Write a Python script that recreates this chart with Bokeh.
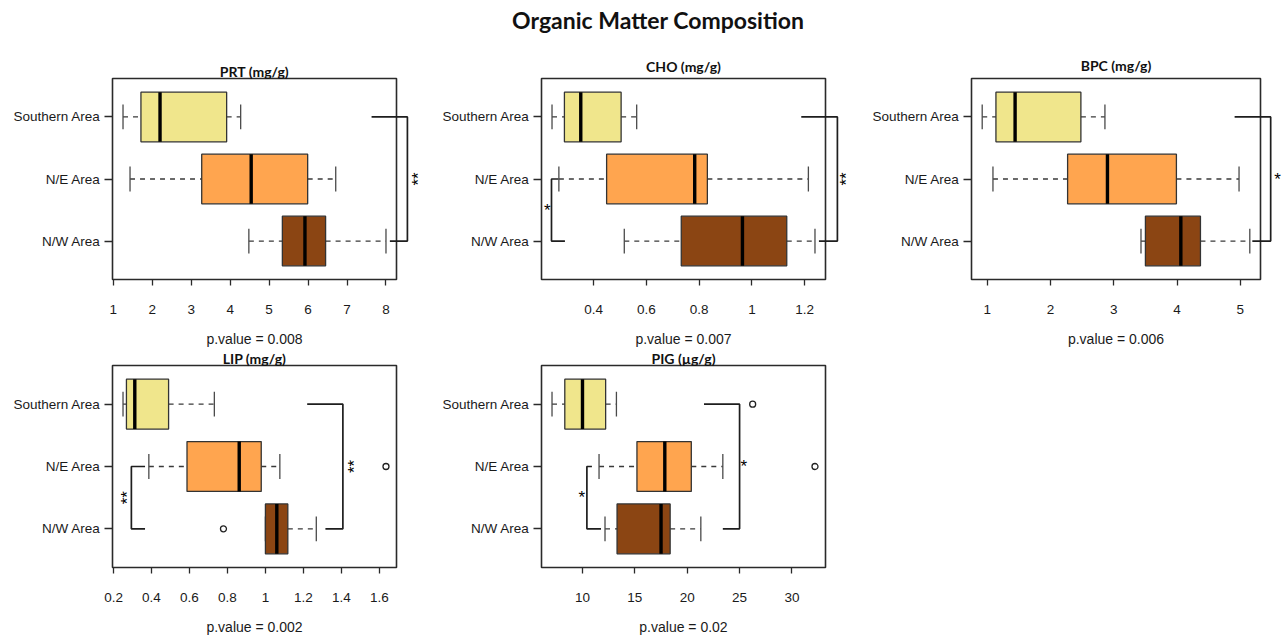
import math
from bokeh.plotting import figure
from bokeh.models import Range1d, FixedTicker, ColumnDataSource, Div
from bokeh.layouts import column, row
from bokeh.embed import file_html
from bokeh.resources import INLINE
from bokeh.core.properties import value

# ---------------- data ----------------
main_title = "Organic Matter Composition"
areas = ["Southern Area", "N/E Area", "N/W Area"]
area_colors = ["#F0E68C", "#FFA54F", "#8B4513"]

prt_title = "PRT (mg/g)"
prt_pvalue = "p.value = 0.008"
prt_low = [1.25, 1.43, 4.48]
prt_q1 = [1.71, 3.27, 5.34]
prt_med = [2.20, 4.54, 5.92]
prt_q3 = [3.91, 5.99, 6.45]
prt_high = [4.27, 6.71, 8.00]
prt_out_area = []
prt_out_val = []
prt_ticks = [1, 2, 3, 4, 5, 6, 7, 8]
prt_br_from = ["Southern Area"]
prt_br_to = ["N/W Area"]
prt_br_x_from = [7.63]
prt_br_x_vert = [8.55]
prt_br_x_to = [8.10]
prt_br_label = ["**"]
prt_br_label_x = [8.75]

cho_title = "CHO (mg/g)"
cho_pvalue = "p.value = 0.007"
cho_low = [0.242, 0.268, 0.516]
cho_q1 = [0.289, 0.449, 0.732]
cho_med = [0.351, 0.783, 0.964]
cho_q3 = [0.504, 0.831, 1.132]
cho_high = [0.563, 1.214, 1.239]
cho_out_area = []
cho_out_val = []
cho_ticks = [0.4, 0.6, 0.8, 1.0, 1.2]
cho_br_from = ["N/E Area", "Southern Area"]
cho_br_to = ["N/W Area", "N/W Area"]
cho_br_x_from = [0.266, 1.187]
cho_br_x_vert = [0.240, 1.324]
cho_br_x_to = [0.291, 1.254]
cho_br_label = ["*", "**"]
cho_br_label_x = [0.224, 1.349]

bpc_title = "BPC (mg/g)"
bpc_pvalue = "p.value = 0.006"
bpc_low = [0.92, 1.09, 3.43]
bpc_q1 = [1.137, 2.27, 3.50]
bpc_med = [1.44, 2.90, 4.06]
bpc_q3 = [2.48, 3.99, 4.37]
bpc_high = [2.86, 4.98, 5.15]
bpc_out_area = []
bpc_out_val = []
bpc_ticks = [1, 2, 3, 4, 5]
bpc_br_from = ["Southern Area"]
bpc_br_to = ["N/W Area"]
bpc_br_x_from = [4.91]
bpc_br_x_vert = [5.48]
bpc_br_x_to = [5.19]
bpc_br_label = ["*"]
bpc_br_label_x = [5.59]

lip_title = "LIP (mg/g)"
lip_pvalue = "p.value = 0.002"
lip_low = [0.250, 0.386, 1.000]
lip_q1 = [0.268, 0.587, 1.000]
lip_med = [0.312, 0.862, 1.060]
lip_q3 = [0.490, 0.978, 1.118]
lip_high = [0.731, 1.076, 1.268]
lip_out_area = ["N/E Area", "N/W Area"]
lip_out_val = [1.635, 0.779]
lip_ticks = [0.2, 0.4, 0.6, 0.8, 1.0, 1.2, 1.4, 1.6]
lip_br_from = ["N/E Area", "Southern Area"]
lip_br_to = ["N/W Area", "N/W Area"]
lip_br_x_from = [0.366, 1.220]
lip_br_x_vert = [0.294, 1.408]
lip_br_x_to = [0.366, 1.316]
lip_br_label = ["**", "**"]
lip_br_label_x = [0.256, 1.455]

pig_title = "PIG (\u00b5g/g)"
pig_pvalue = "p.value = 0.02"
pig_low = [7.09, 11.58, 12.15]
pig_q1 = [8.31, 15.20, 13.30]
pig_med = [10.00, 17.86, 17.50]
pig_q3 = [12.21, 20.39, 18.37]
pig_high = [13.24, 23.40, 21.30]
pig_out_area = ["Southern Area", "N/E Area"]
pig_out_val = [26.25, 32.2]
pig_ticks = [10, 15, 20, 25, 30]
pig_br_from = ["N/E Area", "Southern Area"]
pig_br_to = ["N/W Area", "N/W Area"]
pig_br_x_from = [10.90, 21.6]
pig_br_x_vert = [10.42, 25.0]
pig_br_x_to = [11.77, 23.4]
pig_br_label = ["*", "*"]
pig_br_label_x = [9.94, 25.4]

# ---------------- styling ----------------
TICK_FONT = "Liberation Sans"
TITLE_FONT = "Lato"
FRAME_COLOR = "#2a2a2a"
WHISKER_COLOR = "#3a3a3a"
BOX_HALF = 0.4
CAP_HALF = 0.2


def panel(title, pvalue, low, q1, med, q3, high, out_area, out_val, ticks,
          br_from, br_to, br_x_from, br_x_vert, br_x_to, br_label, br_label_x,
          width, height, bl, brd, bt, bb, title_standoff):
    n = len(areas)
    ypos = {a: n - i for i, a in enumerate(areas)}
    ys = [ypos[a] for a in areas]
    allv = low + high + out_val
    lo, hi = min(allv), max(allv)
    pad = 0.04 * (hi - lo)
    ypad = 0.04 * n
    p = figure(width=width, height=height,
               x_range=Range1d(lo - pad, hi + pad),
               y_range=Range1d(0.5 - ypad, n + 0.5 + ypad),
               output_backend="svg", toolbar_location=None,
               min_border_left=bl, min_border_right=brd,
               min_border_top=bt, min_border_bottom=bb,
               title=title)
    p.title.text_font = TITLE_FONT
    p.title.text_font_style = "bold"
    p.title.text_font_size = "14px"
    p.title.align = "center"
    p.title.text_color = "#111111"
    p.title.standoff = title_standoff
    p.xgrid.visible = False
    p.ygrid.visible = False
    p.outline_line_color = FRAME_COLOR
    p.outline_line_width = 1.6
    p.outline_line_alpha = 1.0

    # axes
    p.xaxis.ticker = FixedTicker(ticks=ticks)
    p.yaxis.ticker = FixedTicker(ticks=ys)
    p.yaxis.major_label_overrides = {ypos[a]: a for a in areas}
    for ax in (p.xaxis[0], p.yaxis[0]):
        ax.axis_line_color = None
        ax.major_tick_line_color = FRAME_COLOR
        ax.major_tick_line_width = 1.3
        ax.minor_tick_line_color = None
        ax.major_tick_in = 0
        ax.major_label_text_font = TICK_FONT
        ax.major_label_text_font_size = "13.5px"
        ax.major_label_text_color = "#1a1a1a"
    p.xaxis.major_tick_out = 6
    p.xaxis.major_label_standoff = 19
    p.yaxis.major_tick_out = 8
    p.yaxis.major_label_standoff = 4
    p.yaxis.major_label_orientation = "horizontal"
    xa = p.xaxis[0]
    xa.axis_label = pvalue
    xa.axis_label_text_font = TICK_FONT
    xa.axis_label_text_font_style = "normal"
    xa.axis_label_text_font_size = "14px"
    xa.axis_label_text_color = "#1a1a1a"
    xa.axis_label_standoff = 14

    src = ColumnDataSource(dict(
        y=ys, low=low, q1=q1, med=med, q3=q3, high=high, color=area_colors,
        bottom=[y - BOX_HALF for y in ys], top=[y + BOX_HALF for y in ys],
        cap0=[y - CAP_HALF for y in ys], cap1=[y + CAP_HALF for y in ys],
    ))
    # whiskers
    p.segment(x0="low", x1="q1", y0="y", y1="y", source=src,
              line_color=WHISKER_COLOR, line_width=1.3, line_dash="5 5")
    p.segment(x0="q3", x1="high", y0="y", y1="y", source=src,
              line_color=WHISKER_COLOR, line_width=1.3, line_dash="5 5")
    # caps
    p.segment(x0="low", x1="low", y0="cap0", y1="cap1", source=src,
              line_color="#4a4a4a", line_width=1.3)
    p.segment(x0="high", x1="high", y0="cap0", y1="cap1", source=src,
              line_color="#4a4a4a", line_width=1.3)
    # boxes
    p.quad(left="q1", right="q3", bottom="bottom", top="top", source=src,
           fill_color="color", line_color="#333333", line_width=1.3)
    # medians
    p.segment(x0="med", x1="med", y0="bottom", y1="top", source=src,
              line_color="black", line_width=3.4)
    # outliers
    if out_val:
        p.scatter(x=out_val, y=[ypos[a] for a in out_area], marker="circle",
                  size=6, fill_color="white", line_color="#222222", line_width=1.3)
    # significance brackets
    xs, yss, lx, ly, ang, xo = [], [], [], [], [], []
    for f, t, xf, xv, xt, lab, lbx in zip(br_from, br_to, br_x_from, br_x_vert,
                                          br_x_to, br_label, br_label_x):
        y0, y1 = ypos[f], ypos[t]
        xs.append([xf, xv, xv, xt])
        yss.append([y0, y0, y1, y1])
        lx.append(lbx)
        ly.append((y0 + y1) / 2)
        multi = len(lab) > 1
        ang.append(math.pi / 2 if multi else 0.0)
        xo.append(3 if multi else 0)
    p.multi_line(xs=xs, ys=yss, line_color="#1e1e1e", line_width=1.7, level="overlay")
    lsrc = ColumnDataSource(dict(x=lx, y=ly, text=br_label, angle=ang, xo=xo))
    p.text(x="x", y="y", text="text", angle="angle", x_offset="xo", source=lsrc,
           text_align="center", text_baseline="middle",
           text_font=value(TICK_FONT), text_font_size="17px",
           text_color="#000000", level="overlay")
    return p


ROW1_H = 311
ROW2_H = 288

f1 = panel(prt_title, prt_pvalue, prt_low, prt_q1, prt_med, prt_q3, prt_high,
           prt_out_area, prt_out_val, prt_ticks, prt_br_from, prt_br_to,
           prt_br_x_from, prt_br_x_vert, prt_br_x_to, prt_br_label, prt_br_label_x,
           430, ROW1_H, 112, 34, 40, 65, -2)
f2 = panel(cho_title, cho_pvalue, cho_low, cho_q1, cho_med, cho_q3, cho_high,
           cho_out_area, cho_out_val, cho_ticks, cho_br_from, cho_br_to,
           cho_br_x_from, cho_br_x_vert, cho_br_x_to, cho_br_label, cho_br_label_x,
           430, ROW1_H, 111, 35, 40, 66, 7)
f3 = panel(bpc_title, bpc_pvalue, bpc_low, bpc_q1, bpc_med, bpc_q3, bpc_high,
           bpc_out_area, bpc_out_val, bpc_ticks, bpc_br_from, bpc_br_to,
           bpc_br_x_from, bpc_br_x_vert, bpc_br_x_to, bpc_br_label, bpc_br_label_x,
           428, ROW1_H, 111, 28, 37, 66, 10)
f4 = panel(lip_title, lip_pvalue, lip_low, lip_q1, lip_med, lip_q3, lip_high,
           lip_out_area, lip_out_val, lip_ticks, lip_br_from, lip_br_to,
           lip_br_x_from, lip_br_x_vert, lip_br_x_to, lip_br_label, lip_br_label_x,
           430, ROW2_H, 112, 34, 16, 66, -3)
f5 = panel(pig_title, pig_pvalue, pig_low, pig_q1, pig_med, pig_q3, pig_high,
           pig_out_area, pig_out_val, pig_ticks, pig_br_from, pig_br_to,
           pig_br_x_from, pig_br_x_vert, pig_br_x_to, pig_br_label, pig_br_label_x,
           430, ROW2_H, 111, 35, 16, 66, -3)

head = Div(text=('<div style="box-sizing:border-box;width:1288px;margin:0;padding:6px 0 0 28px;'
                 'text-align:center;font-family:Lato;font-weight:bold;font-size:23px;'
                 'color:#111;line-height:normal;">' + main_title + '</div>'),
           width=1288, height=38, margin=(0, 0, 0, 0))

layout = column(head, row(f1, f2, f3), row(f4, f5))
open("out.html", "w").write(file_html(layout, INLINE))
